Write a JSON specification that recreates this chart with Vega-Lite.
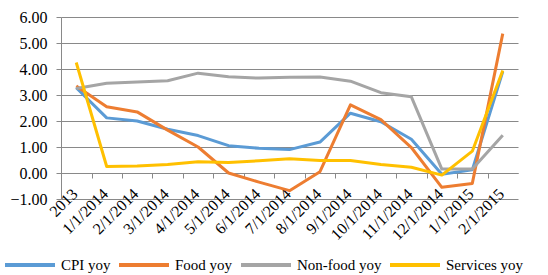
{
  "$schema": "https://vega.github.io/schema/vega-lite/v6.json",
  "width": 457,
  "height": 182,
  "autosize": {"type": "none"},
  "padding": {"left": 61, "top": 17, "right": 30, "bottom": 76},
  "background": "white",
  "config": {
    "font": "Liberation Serif",
    "view": {"stroke": null}
  },
  "data": {
    "values": [
      {"date": "2013", "series": "CPI yoy", "value": 3.28},
      {"date": "1/1/2014", "series": "CPI yoy", "value": 2.12},
      {"date": "2/1/2014", "series": "CPI yoy", "value": 2.0},
      {"date": "3/1/2014", "series": "CPI yoy", "value": 1.68},
      {"date": "4/1/2014", "series": "CPI yoy", "value": 1.44},
      {"date": "5/1/2014", "series": "CPI yoy", "value": 1.05},
      {"date": "6/1/2014", "series": "CPI yoy", "value": 0.95},
      {"date": "7/1/2014", "series": "CPI yoy", "value": 0.9},
      {"date": "8/1/2014", "series": "CPI yoy", "value": 1.19},
      {"date": "9/1/2014", "series": "CPI yoy", "value": 2.3},
      {"date": "10/1/2014", "series": "CPI yoy", "value": 1.97},
      {"date": "11/1/2014", "series": "CPI yoy", "value": 1.3},
      {"date": "12/1/2014", "series": "CPI yoy", "value": -0.05},
      {"date": "1/1/2015", "series": "CPI yoy", "value": 0.12},
      {"date": "2/1/2015", "series": "CPI yoy", "value": 3.9},
      {"date": "2013", "series": "Food yoy", "value": 3.35},
      {"date": "1/1/2014", "series": "Food yoy", "value": 2.55},
      {"date": "2/1/2014", "series": "Food yoy", "value": 2.35},
      {"date": "3/1/2014", "series": "Food yoy", "value": 1.65},
      {"date": "4/1/2014", "series": "Food yoy", "value": 1.0},
      {"date": "5/1/2014", "series": "Food yoy", "value": 0.0},
      {"date": "6/1/2014", "series": "Food yoy", "value": -0.35},
      {"date": "7/1/2014", "series": "Food yoy", "value": -0.68},
      {"date": "8/1/2014", "series": "Food yoy", "value": 0.05},
      {"date": "9/1/2014", "series": "Food yoy", "value": 2.62},
      {"date": "10/1/2014", "series": "Food yoy", "value": 2.05},
      {"date": "11/1/2014", "series": "Food yoy", "value": 0.98},
      {"date": "12/1/2014", "series": "Food yoy", "value": -0.55},
      {"date": "1/1/2015", "series": "Food yoy", "value": -0.4},
      {"date": "2/1/2015", "series": "Food yoy", "value": 5.36},
      {"date": "2013", "series": "Non-food yoy", "value": 3.25},
      {"date": "1/1/2014", "series": "Non-food yoy", "value": 3.45},
      {"date": "2/1/2014", "series": "Non-food yoy", "value": 3.5},
      {"date": "3/1/2014", "series": "Non-food yoy", "value": 3.55},
      {"date": "4/1/2014", "series": "Non-food yoy", "value": 3.84},
      {"date": "5/1/2014", "series": "Non-food yoy", "value": 3.7},
      {"date": "6/1/2014", "series": "Non-food yoy", "value": 3.65},
      {"date": "7/1/2014", "series": "Non-food yoy", "value": 3.68},
      {"date": "8/1/2014", "series": "Non-food yoy", "value": 3.69},
      {"date": "9/1/2014", "series": "Non-food yoy", "value": 3.53},
      {"date": "10/1/2014", "series": "Non-food yoy", "value": 3.09},
      {"date": "11/1/2014", "series": "Non-food yoy", "value": 2.93},
      {"date": "12/1/2014", "series": "Non-food yoy", "value": 0.15},
      {"date": "1/1/2015", "series": "Non-food yoy", "value": 0.15},
      {"date": "2/1/2015", "series": "Non-food yoy", "value": 1.45},
      {"date": "2013", "series": "Services yoy", "value": 4.25},
      {"date": "1/1/2014", "series": "Services yoy", "value": 0.25},
      {"date": "2/1/2014", "series": "Services yoy", "value": 0.27},
      {"date": "3/1/2014", "series": "Services yoy", "value": 0.33},
      {"date": "4/1/2014", "series": "Services yoy", "value": 0.43},
      {"date": "5/1/2014", "series": "Services yoy", "value": 0.4},
      {"date": "6/1/2014", "series": "Services yoy", "value": 0.47},
      {"date": "7/1/2014", "series": "Services yoy", "value": 0.55},
      {"date": "8/1/2014", "series": "Services yoy", "value": 0.48},
      {"date": "9/1/2014", "series": "Services yoy", "value": 0.48},
      {"date": "10/1/2014", "series": "Services yoy", "value": 0.33},
      {"date": "11/1/2014", "series": "Services yoy", "value": 0.22},
      {"date": "12/1/2014", "series": "Services yoy", "value": -0.08},
      {"date": "1/1/2015", "series": "Services yoy", "value": 0.84},
      {"date": "2/1/2015", "series": "Services yoy", "value": 3.94}
    ]
  },
  "mark": {"type": "line", "strokeWidth": 3, "strokeJoin": "round"},
  "encoding": {
    "x": {
      "field": "date",
      "type": "ordinal",
      "sort": ["2013", "1/1/2014", "2/1/2014", "3/1/2014", "4/1/2014", "5/1/2014", "6/1/2014", "7/1/2014", "8/1/2014", "9/1/2014", "10/1/2014", "11/1/2014", "12/1/2014", "1/1/2015", "2/1/2015"],
      "scale": {"type": "point", "padding": 0.5},
      "axis": {
        "title": null,
        "offset": -26,
        "domainColor": "#898989",
        "domainWidth": 1,
        "tickColor": "#898989",
        "tickSize": 5,
        "tickOffset": -15.2,
        "labelOffset": 13.5,
        "labelAngle": -45,
        "labelAlign": "right",
        "labelBaseline": "middle",
        "labelPadding": 13,
        "labelFontSize": 16,
        "labelColor": "black",
        "labelOverlap": false,
        "grid": false
      }
    },
    "y": {
      "field": "value",
      "type": "quantitative",
      "scale": {"domain": [-1, 6], "nice": false, "zero": false},
      "axis": {
        "title": null,
        "values": [-1, 0, 1, 2, 3, 4, 5, 6],
        "format": ".2f",
        "grid": true,
        "gridColor": "#898989",
        "gridWidth": 1,
        "gridOpacity": 1,
        "domainColor": "#898989",
        "tickColor": "#898989",
        "tickSize": 5,
        "labelPadding": 9,
        "labelFontSize": 16,
        "labelColor": "black"
      }
    },
    "color": {
      "field": "series",
      "type": "nominal",
      "scale": {
        "domain": ["CPI yoy", "Food yoy", "Non-food yoy", "Services yoy"],
        "range": ["#5B9BD5", "#ED7D31", "#A5A5A5", "#FFC000"]
      },
      "legend": {
        "title": null,
        "orient": "none",
        "direction": "horizontal",
        "legendX": -58,
        "legendY": 221,
        "symbolType": "stroke",
        "symbolSize": 2500,
        "symbolStrokeWidth": 4,
        "labelFontSize": 15,
        "labelColor": "black",
        "labelOffset": 4,
        "columnPadding": 0
      }
    }
  }
}
